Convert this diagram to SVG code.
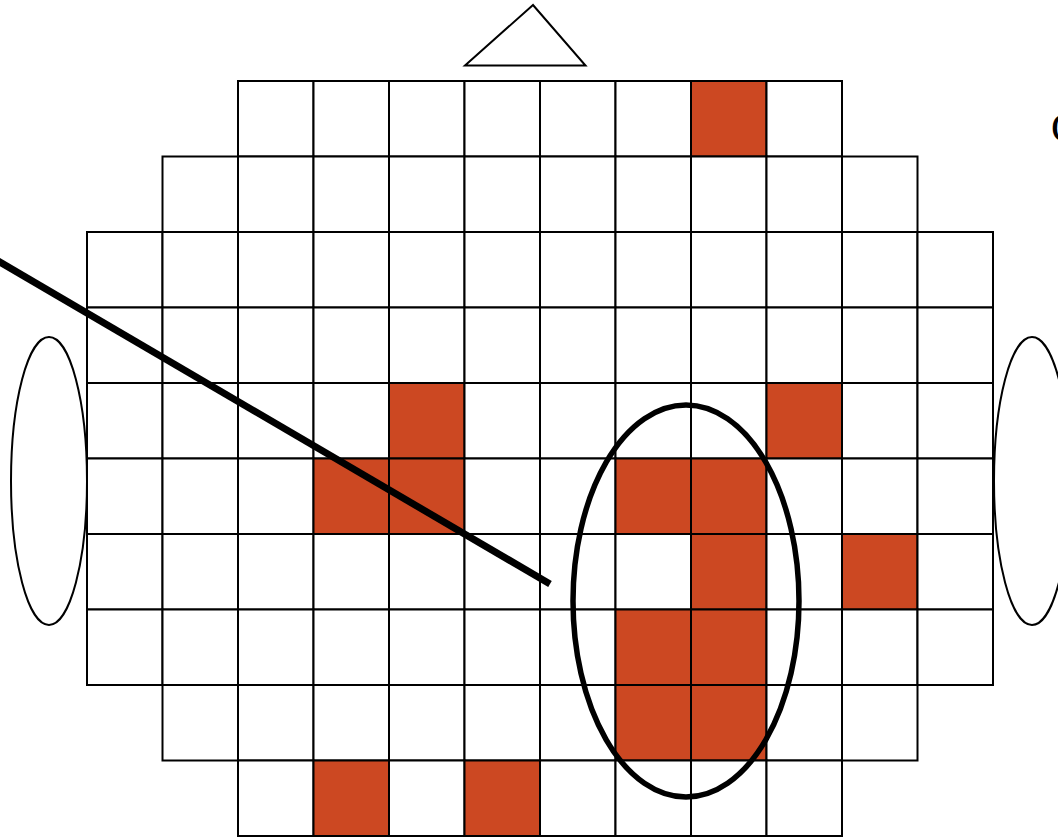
<svg xmlns="http://www.w3.org/2000/svg" width="1058" height="837" viewBox="0 0 1058 837">
<style>
.c{fill:#fff;stroke:#000;stroke-width:2}
.r{fill:#cc4822;stroke:#000;stroke-width:2}
.o{fill:#fff;stroke:#000;stroke-width:2}
</style>
<defs>
<rect id="cw" class="c" width="75.5" height="75.5"/>
<rect id="cr" class="r" width="75.5" height="75.5"/>
</defs>
<rect width="1058" height="837" fill="#fff"/>
<g id="grid">
<!-- row 0 -->
<use href="#cw" x="238" y="81"/><use href="#cw" x="313.5" y="81"/><use href="#cw" x="389" y="81"/><use href="#cw" x="464.5" y="81"/><use href="#cw" x="540" y="81"/><use href="#cw" x="615.5" y="81"/><use href="#cr" x="691" y="81"/><use href="#cw" x="766.5" y="81"/>
<!-- row 1 -->
<use href="#cw" x="162.5" y="156.5"/><use href="#cw" x="238" y="156.5"/><use href="#cw" x="313.5" y="156.5"/><use href="#cw" x="389" y="156.5"/><use href="#cw" x="464.5" y="156.5"/><use href="#cw" x="540" y="156.5"/><use href="#cw" x="615.5" y="156.5"/><use href="#cw" x="691" y="156.5"/><use href="#cw" x="766.5" y="156.5"/><use href="#cw" x="842" y="156.5"/>
<!-- row 2 -->
<use href="#cw" x="87" y="232"/><use href="#cw" x="162.5" y="232"/><use href="#cw" x="238" y="232"/><use href="#cw" x="313.5" y="232"/><use href="#cw" x="389" y="232"/><use href="#cw" x="464.5" y="232"/><use href="#cw" x="540" y="232"/><use href="#cw" x="615.5" y="232"/><use href="#cw" x="691" y="232"/><use href="#cw" x="766.5" y="232"/><use href="#cw" x="842" y="232"/><use href="#cw" x="917.5" y="232"/>
<!-- row 3 -->
<use href="#cw" x="87" y="307.5"/><use href="#cw" x="162.5" y="307.5"/><use href="#cw" x="238" y="307.5"/><use href="#cw" x="313.5" y="307.5"/><use href="#cw" x="389" y="307.5"/><use href="#cw" x="464.5" y="307.5"/><use href="#cw" x="540" y="307.5"/><use href="#cw" x="615.5" y="307.5"/><use href="#cw" x="691" y="307.5"/><use href="#cw" x="766.5" y="307.5"/><use href="#cw" x="842" y="307.5"/><use href="#cw" x="917.5" y="307.5"/>
<!-- row 4 -->
<use href="#cw" x="87" y="383"/><use href="#cw" x="162.5" y="383"/><use href="#cw" x="238" y="383"/><use href="#cw" x="313.5" y="383"/><use href="#cr" x="389" y="383"/><use href="#cw" x="464.5" y="383"/><use href="#cw" x="540" y="383"/><use href="#cw" x="615.5" y="383"/><use href="#cw" x="691" y="383"/><use href="#cr" x="766.5" y="383"/><use href="#cw" x="842" y="383"/><use href="#cw" x="917.5" y="383"/>
<!-- row 5 -->
<use href="#cw" x="87" y="458.5"/><use href="#cw" x="162.5" y="458.5"/><use href="#cw" x="238" y="458.5"/><use href="#cr" x="313.5" y="458.5"/><use href="#cr" x="389" y="458.5"/><use href="#cw" x="464.5" y="458.5"/><use href="#cw" x="540" y="458.5"/><use href="#cr" x="615.5" y="458.5"/><use href="#cr" x="691" y="458.5"/><use href="#cw" x="766.5" y="458.5"/><use href="#cw" x="842" y="458.5"/><use href="#cw" x="917.5" y="458.5"/>
<!-- row 6 -->
<use href="#cw" x="87" y="534"/><use href="#cw" x="162.5" y="534"/><use href="#cw" x="238" y="534"/><use href="#cw" x="313.5" y="534"/><use href="#cw" x="389" y="534"/><use href="#cw" x="464.5" y="534"/><use href="#cw" x="540" y="534"/><use href="#cw" x="615.5" y="534"/><use href="#cr" x="691" y="534"/><use href="#cw" x="766.5" y="534"/><use href="#cr" x="842" y="534"/><use href="#cw" x="917.5" y="534"/>
<!-- row 7 -->
<use href="#cw" x="87" y="609.5"/><use href="#cw" x="162.5" y="609.5"/><use href="#cw" x="238" y="609.5"/><use href="#cw" x="313.5" y="609.5"/><use href="#cw" x="389" y="609.5"/><use href="#cw" x="464.5" y="609.5"/><use href="#cw" x="540" y="609.5"/><use href="#cr" x="615.5" y="609.5"/><use href="#cr" x="691" y="609.5"/><use href="#cw" x="766.5" y="609.5"/><use href="#cw" x="842" y="609.5"/><use href="#cw" x="917.5" y="609.5"/>
<!-- row 8 -->
<use href="#cw" x="162.5" y="685"/><use href="#cw" x="238" y="685"/><use href="#cw" x="313.5" y="685"/><use href="#cw" x="389" y="685"/><use href="#cw" x="464.5" y="685"/><use href="#cw" x="540" y="685"/><use href="#cr" x="615.5" y="685"/><use href="#cr" x="691" y="685"/><use href="#cw" x="766.5" y="685"/><use href="#cw" x="842" y="685"/>
<!-- row 9 -->
<use href="#cw" x="238" y="760.5"/><use href="#cr" x="313.5" y="760.5"/><use href="#cw" x="389" y="760.5"/><use href="#cr" x="464.5" y="760.5"/><use href="#cw" x="540" y="760.5"/><use href="#cw" x="615.5" y="760.5"/><use href="#cw" x="691" y="760.5"/><use href="#cw" x="766.5" y="760.5"/>
</g>
<g id="nose"><polygon class="o" points="533,5 465,65.5 585.5,65.5"/></g>
<g id="ear-left"><ellipse class="o" cx="49" cy="481" rx="38" ry="144"/></g>
<g id="ear-right"><ellipse class="o" cx="1032" cy="481" rx="38" ry="144"/></g>
<g id="connectors">
<line x1="-2" y1="261" x2="550" y2="584" stroke="#000" stroke-width="7"/>
<ellipse cx="686" cy="601" rx="113" ry="196" fill="none" stroke="#000" stroke-width="5.5"/>
</g>
<g id="label"><text x="1051" y="142" font-family="Liberation Serif, serif" font-size="42">C</text></g>
</svg>
